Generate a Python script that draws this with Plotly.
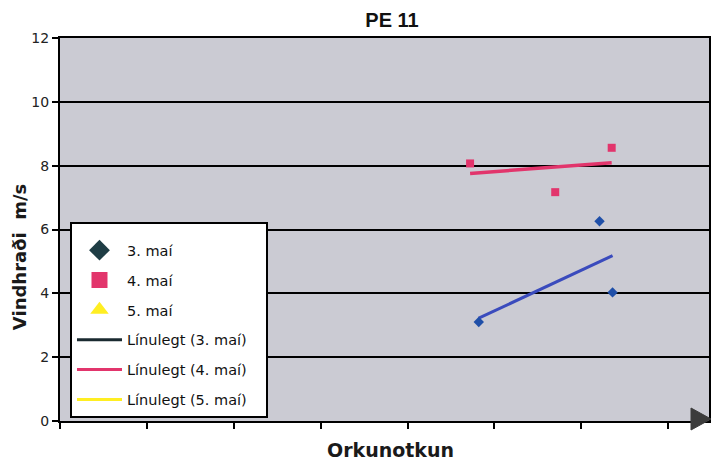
import numpy as np
import plotly.graph_objects as go

# ---- data ----
series_names = ["3. maí", "4. maí", "5. maí"]
trend_names = ["Línulegt (3. maí)", "Línulegt (4. maí)", "Línulegt (5. maí)"]
x_3mai = [4.82, 6.21, 6.36]
y_3mai = [3.10, 6.26, 4.03]
x_4mai = [4.72, 5.70, 6.35]
y_4mai = [8.07, 7.17, 8.56]
x_5mai = []
y_5mai = []
y_ticks = [0, 2, 4, 6, 8, 10, 12]
x_ticks = [0, 1, 2, 3, 4, 5, 6, 7]

FONT = "DejaVu Sans"
PLOT_BG = "#cbcbd3"
BLUE = "#1f4fa8"
BLUE_LINE = "#3a4bbd"
PINK = "#e2356c"
YELLOW = "#ffee22"
DARK = "#1f3d45"

fig = go.Figure()

def trend(xs, ys):
    k, m = np.polyfit(xs, ys, 1)
    xx = [min(xs), max(xs)]
    return xx, [k * v + m for v in xx]

# plotted data (no legend)
tx3, ty3 = trend(x_3mai, y_3mai)
tx4, ty4 = trend(x_4mai, y_4mai)
fig.add_trace(go.Scatter(x=tx3, y=ty3, mode="lines", line=dict(color=BLUE_LINE, width=3), showlegend=False))
fig.add_trace(go.Scatter(x=tx4, y=ty4, mode="lines", line=dict(color=PINK, width=3.5), showlegend=False))
fig.add_trace(go.Scatter(x=x_3mai, y=y_3mai, mode="markers",
                         marker=dict(symbol="diamond", size=8, color=BLUE), showlegend=False))
fig.add_trace(go.Scatter(x=x_4mai, y=y_4mai, mode="markers",
                         marker=dict(symbol="square", size=8, color=PINK), showlegend=False))

# legend entries
NB = "&nbsp;&nbsp;&nbsp;"
leg_markers = [("diamond", DARK), ("square", PINK), ("triangle-up", YELLOW)]
for i, (name, (sym, col)) in enumerate(zip(series_names, leg_markers)):
    fig.add_trace(go.Scatter(x=[None], y=[None], mode="markers", name=name, legendgroup=f"g{i}",
                             marker=dict(symbol=sym, size=16, color=col)))
leg_lines = ["#1a2a30", PINK, YELLOW]
for i, (name, col) in enumerate(zip(trend_names, leg_lines)):
    fig.add_trace(go.Scatter(x=[None], y=[None], mode="lines", name=name + NB, legendgroup=f"h{i}",
                             line=dict(color=col, width=3)))

fig.update_layout(
    width=715, height=465,
    margin=dict(l=60, r=4, t=38, b=44),
    paper_bgcolor="white", plot_bgcolor=PLOT_BG,
    font=dict(family=FONT, color="#1a1a1a"),
    title=dict(text="<b>PE 11</b>", x=392 / 715, xanchor="center", y=1 - 20 / 465, yanchor="middle",
               font=dict(family="Liberation Sans", size=20, color="#111")),
    legend=dict(x=0.0154, y=0.52, xanchor="left", yanchor="top",
                bgcolor="white", bordercolor="black", borderwidth=2,
                font=dict(family=FONT, size=14.5, color="#111"),
                title=dict(text="&nbsp;", font=dict(size=8)),
                traceorder="grouped", tracegroupgap=8, itemwidth=45),
    showlegend=True,
)
fig.update_xaxes(range=[0, 7.47], tickvals=x_ticks, showticklabels=False, ticks="outside", ticklen=6,
                 tickwidth=1.5, tickcolor="black", showgrid=False, zeroline=False,
                 showline=True, linecolor="black", linewidth=2, mirror=True)
fig.update_yaxes(range=[0, 12], tickvals=y_ticks, ticks="outside", ticklen=6, tickwidth=1.5, tickcolor="black",
                 showgrid=True, gridcolor="black", gridwidth=2, zeroline=False,
                 showline=True, linecolor="black", linewidth=2, mirror=True,
                 tickfont=dict(family=FONT, size=14, color="#222"))

fig.add_annotation(text="<b>Vindhraði  m/s</b>", textangle=-90, xref="paper", yref="paper",
                   x=(19 - 60) / 651, y=(421 - 257) / 383, xanchor="center", yanchor="middle",
                   showarrow=False, font=dict(family=FONT, size=18, color="#1a1a1a"))
fig.add_annotation(text="<b>Orkunotkun</b>", xref="paper", yref="paper",
                   x=(392 - 60) / 651, y=-(450 - 421) / 383, xanchor="center", yanchor="middle",
                   showarrow=False, font=dict(family=FONT, size=19, color="#1a1a1a"))

# arrow head at end of x axis (paper-referenced so it is not clipped)
fig.add_shape(type="path", xref="paper", yref="paper", xsizemode="pixel", ysizemode="pixel",
              xanchor=1, yanchor=0, path="M -18,13 L 2,2 L -18,-9 Z",
              fillcolor="#3c3c3c", line=dict(color="#3c3c3c", width=1))

fig.write_html("out.html", config={"displayModeBar": False},
               post_script="document.body.style.margin='0';document.body.style.overflow='hidden';")
